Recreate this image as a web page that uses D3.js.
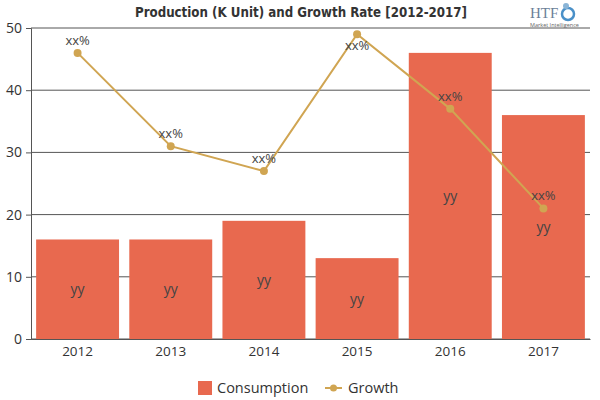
<!DOCTYPE html>
<html>
<head>
<meta charset="utf-8">
<script src="https://cdn.jsdelivr.net/npm/d3@7"></script>
<style>
  body { margin: 0; background: #fff; }
  text { font-family: "Open Sans", "DejaVu Sans", sans-serif; }
</style>
</head>
<body>
<div id="chart"></div>
<script>
// chart data
const years = ["2012", "2013", "2014", "2015", "2016", "2017"];
const consumption = [16, 16, 19, 13, 46, 36];
const growth = [46, 31, 27, 49, 37, 21];
const yTicks = [0, 10, 20, 30, 40, 50];

const width = 600, height = 400;
const margin = { top: 28, right: 10, bottom: 61, left: 31 };

const svg = d3.select("#chart").append("svg")
    .attr("width", width)
    .attr("height", height);

const x = d3.scaleBand()
    .domain(years)
    .range([margin.left, width - margin.right])
    .paddingInner(0.11)
    .paddingOuter(0.055);

const y = d3.scaleLinear()
    .domain([0, 50])
    .range([height - margin.bottom, margin.top]);

// gridlines
svg.append("g")
    .selectAll("line")
    .data(yTicks)
    .enter().append("line")
    .attr("x1", margin.left)
    .attr("x2", width - margin.right)
    .attr("y1", d => y(d))
    .attr("y2", d => y(d))
    .attr("stroke", "#555")
    .attr("stroke-width", 1);

// y axis
let yAxis = svg.append("g")
    .attr("transform", "translate(" + margin.left + ",0)")
    .call(d3.axisLeft(y).tickValues(yTicks).tickSize(5).tickPadding(4));
yAxis.select(".domain").attr("stroke", "#555");
yAxis.selectAll(".tick line").attr("stroke", "#555");
yAxis.selectAll("text").attr("fill", "#333").style("font-size", "14px");

// x axis
let xAxis = svg.append("g")
    .attr("transform", "translate(0," + y(0) + ")")
    .call(d3.axisBottom(x).tickSize(0).tickPadding(7));
xAxis.select(".domain").attr("stroke", "#555");
xAxis.selectAll("text").attr("fill", "#333").style("font-size", "13.5px");

// bars
svg.append("g")
    .selectAll("rect")
    .data(consumption)
    .enter().append("rect")
    .attr("x", (d, i) => x(years[i]))
    .attr("y", d => y(d))
    .attr("width", x.bandwidth())
    .attr("height", d => y(0) - y(d))
    .attr("fill", "#e8694f");

svg.append("g")
    .selectAll("text")
    .data(consumption)
    .enter().append("text")
    .attr("x", (d, i) => x(years[i]) + x.bandwidth() / 2)
    .attr("y", d => y(d / 2) + 5)
    .attr("text-anchor", "middle")
    .attr("fill", "#444")
    .style("font-size", "14px")
    .text("yy");

// growth line
const cx = (d, i) => x(years[i]) + x.bandwidth() / 2;
const line = d3.line()
    .x(cx)
    .y(d => y(d));

svg.append("path")
    .datum(growth)
    .attr("d", line)
    .attr("fill", "none")
    .attr("stroke", "#d0a552")
    .attr("stroke-width", 2);

svg.append("g")
    .selectAll("circle")
    .data(growth)
    .enter().append("circle")
    .attr("cx", cx)
    .attr("cy", d => y(d))
    .attr("r", 4)
    .attr("fill", "#d0a552");

// labels go below the point when there is no room above
svg.append("g")
    .selectAll("text")
    .data(growth)
    .enter().append("text")
    .attr("x", cx)
    .attr("y", d => y(d) - 22 < margin.top ? y(d) + 16 : y(d) - 8)
    .attr("text-anchor", "middle")
    .attr("fill", "#444")
    .style("font-size", "13px")
    .text("xx%");

// title
svg.append("text")
    .attr("x", 301)
    .attr("y", 17)
    .attr("text-anchor", "middle")
    .attr("fill", "#333")
    .style("font-family", "'DejaVu Sans Condensed', 'DejaVu Sans', sans-serif")
    .style("font-weight", "bold")
    .style("font-size", "13.2px")
    .text("Production (K Unit) and Growth Rate [2012-2017]");

// logo
let logo = svg.append("g");
logo.append("text")
    .attr("x", 530).attr("y", 18)
    .attr("fill", "#6b7f99")
    .style("font-family", "'Liberation Serif', serif")
    .style("font-size", "15px")
    .text("HTF");
logo.append("circle")
    .attr("cx", 568).attr("cy", 14).attr("r", 6)
    .attr("fill", "none").attr("stroke", "#4a90c8").attr("stroke-width", 2.5);
logo.append("circle")
    .attr("cx", 566).attr("cy", 6).attr("r", 3)
    .attr("fill", "#8ab4d6");
logo.append("text")
    .attr("x", 530).attr("y", 27)
    .attr("fill", "#666")
    .style("font-size", "5.5px")
    .text("Market Intelligence");

// legend
let legend = svg.append("g");
legend.append("rect")
    .attr("x", 198).attr("y", 381)
    .attr("width", 14).attr("height", 14)
    .attr("fill", "#e8694f");
legend.append("text")
    .attr("x", 217).attr("y", 393)
    .attr("fill", "#333")
    .style("font-size", "14.5px")
    .text("Consumption");
legend.append("line")
    .attr("x1", 325).attr("x2", 342)
    .attr("y1", 388).attr("y2", 388)
    .attr("stroke", "#d0a552").attr("stroke-width", 2);
legend.append("circle")
    .attr("cx", 333.5).attr("cy", 388).attr("r", 3.5)
    .attr("fill", "#d0a552");
legend.append("text")
    .attr("x", 348).attr("y", 393)
    .attr("fill", "#333")
    .style("font-size", "14.5px")
    .text("Growth");
</script>
</body>
</html>
